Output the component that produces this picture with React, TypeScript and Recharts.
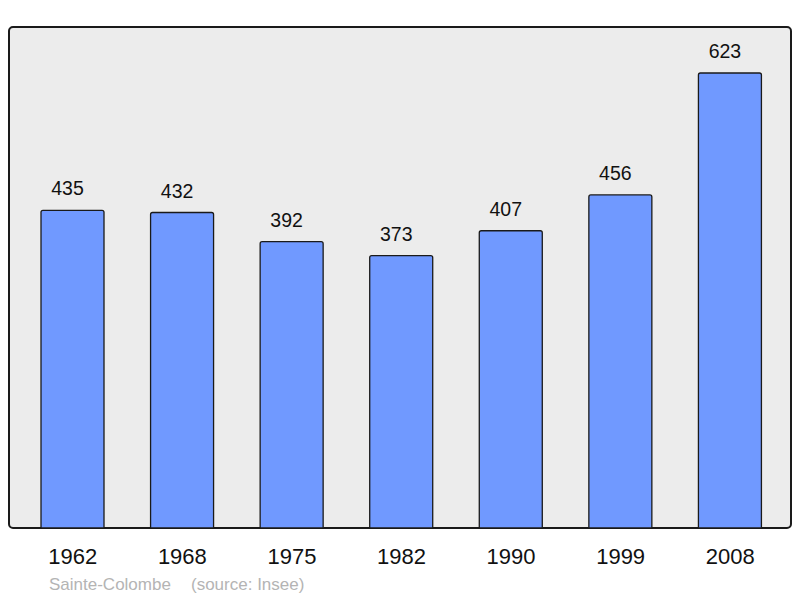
import { Bar, BarChart, LabelList, XAxis, YAxis } from "recharts";

const years = ["1962", "1968", "1975", "1982", "1990", "1999", "2008"];
const population = [435, 432, 392, 373, 407, 456, 623];
const yDomain = [0, 686];
const commune = "Sainte-Colombe";
const source = "(source: Insee)";

const data = years.map((year, i) => ({ year, pop: population[i] }));

const FONT = "'Liberation Sans', Arial, Helvetica, sans-serif";

// plot frame (grey box with rounded dark border)
const frame: React.CSSProperties = {
  position: "absolute",
  left: 8,
  top: 26,
  width: 784,
  height: 503,
  boxSizing: "border-box",
  border: "2px solid #1a1a1a",
  borderRadius: 5,
  background: "#ececec",
};

const footer: React.CSSProperties = {
  position: "absolute",
  top: 575,
  fontSize: 17,
  color: "#b4b4b4",
  whiteSpace: "nowrap",
};

export default function App() {
  return (
    <div style={{ position: "absolute", left: 0, top: 0, width: 800, height: 598, background: "#fff", fontFamily: FONT }}>
      <div style={frame} />
      <div style={{ position: "absolute", left: 0, top: 0 }}>
        <BarChart
          width={800}
          height={598}
          data={data}
          margin={{ top: 27, right: 8, bottom: 0, left: 9 }}
          barSize={63}
        >
          <XAxis
            dataKey="year"
            height={70}
            axisLine={false}
            tickLine={false}
            tickMargin={14}
            padding={{ left: 9, right: 7 }}
            tick={{ fontSize: 22, fill: "#111", fontFamily: FONT }}
            interval={0}
          />
          <YAxis hide domain={yDomain} width={0} />
          <Bar
            dataKey="pop"
            fill="#7099ff"
            stroke="#1a1a1a"
            strokeWidth={1.3}
            radius={[2, 2, 0, 0]}
            isAnimationActive={false}
          >
            <LabelList
              dataKey="pop"
              position="top"
              offset={15}
              dx={-5}
              style={{ fontSize: 19.5, fill: "#111", fontFamily: FONT }}
            />
          </Bar>
        </BarChart>
      </div>
      <div style={{ ...footer, left: 49 }}>{commune}</div>
      <div style={{ ...footer, left: 191 }}>{source}</div>
    </div>
  );
}
